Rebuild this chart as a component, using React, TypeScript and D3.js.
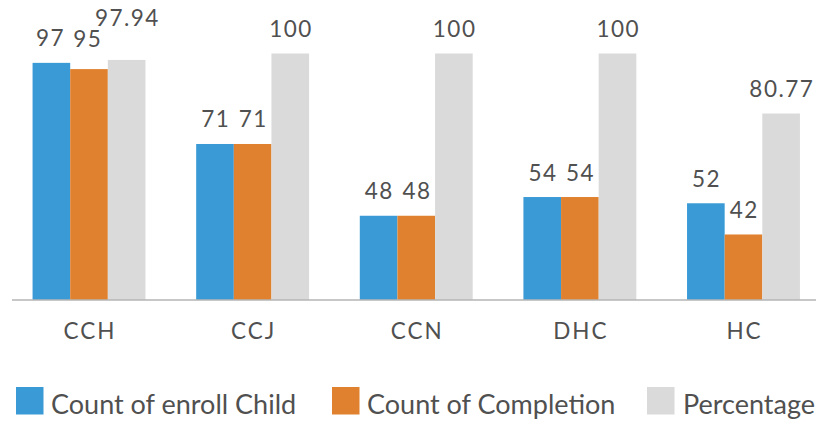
import React from "react";
import * as d3 from "d3";

const categories = ["CCH", "CCJ", "CCN", "DHC", "HC"];
const seriesNames = ["Count of enroll Child", "Count of Completion", "Percentage"];
const enrollValues = [97, 71, 48, 54, 52];
const completionValues = [95, 71, 48, 54, 42];
const percentageValues = [97.94, 100, 100, 100, 80.77];
const valueLabels = [
  ["97", "71", "48", "54", "52"],
  ["95", "71", "48", "54", "42"],
  ["97.94", "100", "100", "100", "80.77"],
];
const colors = ["#3a9ad6", "#e0812f", "#dadada"];
// label nudges (Excel overlap avoidance) keyed by "series-category"
const labelNudges: Record<string, [number, number]> = {
  "0-0": [-1.5, 0],
  "1-0": [-2, -6],
  "2-0": [0, -17],
};

const W = 816;
const H = 423;
const FONT = "Lato, 'Open Sans', sans-serif";
const TEXT = "#505050";

export default function App() {
  const series = [enrollValues, completionValues, percentageValues];
  const x0 = d3
    .scaleBand<string>()
    .domain(categories)
    .range([7.2, 825.3])
    .paddingInner(0.31)
    .paddingOuter(0.155);
  const x1 = d3
    .scaleBand<number>()
    .domain([0, 1, 2])
    .range([0, x0.bandwidth()]);
  const y = d3.scaleLinear().domain([21, 100]).range([300, 53.5]);

  const legendItems = [
    { sx: 16, tx: 51 },
    { sx: 332, tx: 367 },
    { sx: 647, tx: 683 },
  ];

  return (
    <svg
      width={W}
      height={H}
      style={{ position: "absolute", left: 0, top: 0, display: "block", background: "#fff" }}
      fontFamily={FONT}
      fontWeight={400}
    >
      {categories.map((c, ci) => (
        <g key={c} transform={`translate(${x0(c)},0)`}>
          {series.map((vals, si) => (
            <rect
              key={si}
              x={x1(si)}
              y={y(vals[ci])}
              width={x1.bandwidth()}
              height={300 - y(vals[ci])}
              fill={colors[si]}
            />
          ))}
        </g>
      ))}
      <line x1={12} x2={816} y1={300} y2={300} stroke="#b5b5b5" strokeWidth={1.5} />
      {categories.map((c, ci) =>
        series.map((vals, si) => {
          const n = labelNudges[`${si}-${ci}`] || [0, 0];
          return (
            <text
              key={`${c}-${si}`}
              x={(x0(c) as number) + (x1(si) as number) + x1.bandwidth() / 2 + n[0] + 0.75}
              y={y(vals[ci]) - 16.5 + n[1]}
              textAnchor="middle"
              fontSize={22.5}
              letterSpacing={1.5}
              fill={TEXT}
            >
              {valueLabels[si][ci]}
            </text>
          );
        })
      )}
      {categories.map((c) => (
        <text
          key={c}
          x={(x0(c) as number) + x0.bandwidth() / 2 + 1}
          y={338.5}
          textAnchor="middle"
          fontSize={22.5}
          letterSpacing={2}
          fill={TEXT}
        >
          {c}
        </text>
      ))}
      {seriesNames.map((s, i) => (
        <g key={s}>
          <rect x={legendItems[i].sx} y={387} width={27.5} height={27.5} fill={colors[i]} />
          <text x={legendItems[i].tx} y={414} fontSize={27} fill={TEXT}>
            {s}
          </text>
        </g>
      ))}
    </svg>
  );
}
